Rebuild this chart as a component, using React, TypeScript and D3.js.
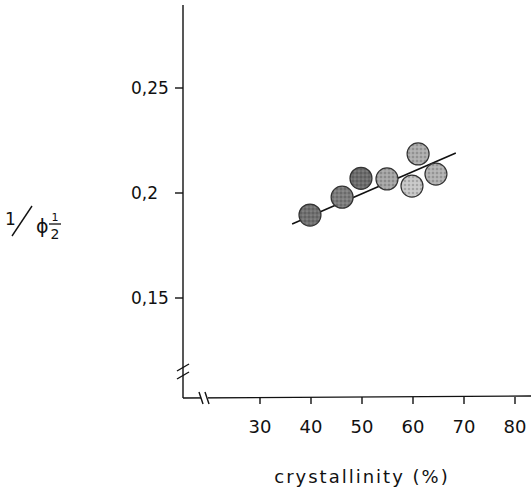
import React from 'react'
import { scaleLinear, line } from 'd3'

// crystallinity (%) vs 1/phi^(1/2)
const crystallinity = [39.8, 46.1, 49.8, 54.9, 59.8, 61.0, 64.5]
const invPhi = [0.1895, 0.198, 0.207, 0.2067, 0.2033, 0.2186, 0.209]
const shades = ['#707070', '#7c7c7c', '#6c6c6c', '#a4a4a4', '#c6c6c6', '#acacac', '#b0b0b0']

// fitted line end points
const fitX = [36.3, 68.4]
const fitY = [0.1852, 0.219]

const xTicks = [30, 40, 50, 60, 70, 80]
const yTicks = [0.15, 0.2, 0.25]
const yTickLabels = ['0,15', '0,2', '0,25']

const W = 531, H = 488
const axisX = 183, axisY = 398

const App = () => {
    const x = scaleLinear().domain([30, 80]).range([260, 515])
    const y = scaleLinear().domain([0.15, 0.25]).range([298, 88])

    const fit = line<number>().x((d) => x(d)).y((_, i) => y(fitY[i]))(fitX)
    const font = "'DejaVu Sans', sans-serif"

    return (
        <svg width={W} height={H} style={{ position: 'absolute', left: 0, top: 0 }} fontFamily={font}>
            <defs>
                <pattern id='stipple' width={4} height={4} patternUnits='userSpaceOnUse'>
                    <circle cx={1} cy={1} r={0.7} fill='#222' opacity={0.55} />
                    <circle cx={3} cy={3} r={0.6} fill='#fff' opacity={0.4} />
                </pattern>
            </defs>

            {/* y axis with break */}
            <line x1={axisX} y1={5} x2={axisX} y2={axisY} stroke='#111' strokeWidth={1.4} />
            <line x1={177} y1={371} x2={189} y2={364} stroke='#111' strokeWidth={1.4} />
            <line x1={177} y1={379} x2={189} y2={372} stroke='#111' strokeWidth={1.4} />
            {yTicks.map((t, i) => (
                <g key={t}>
                    <line x1={axisX - 8} x2={axisX} y1={y(t)} y2={y(t)} stroke='#111' strokeWidth={1.4} />
                    <text x={131} y={y(t)} dy='0.35em' fontSize={17} fill='#111'>{yTickLabels[i]}</text>
                </g>
            ))}

            {/* x axis with break */}
            <line x1={axisX} y1={axisY} x2={W} y2={axisY - 2} stroke='#111' strokeWidth={1.4} />
            <rect x={201} y={390} width={7} height={14} fill='#fff' />
            <line x1={199} y1={392} x2={203} y2={404} stroke='#111' strokeWidth={1.4} />
            <line x1={205} y1={392} x2={209} y2={404} stroke='#111' strokeWidth={1.4} />
            {xTicks.map((t) => (
                <g key={t}>
                    <line x1={x(t)} x2={x(t)} y1={axisY - 1} y2={axisY + 6} stroke='#111' strokeWidth={1.4} />
                    <text x={x(t)} y={427} dy='0.35em' textAnchor='middle' fontSize={18} fill='#111'>{t}</text>
                </g>
            ))}
            <text x={362} y={477} dy='0.35em' textAnchor='middle' fontSize={18} fill='#111' letterSpacing={2}>
                crystallinity  (%)
            </text>

            {/* y label: 1 / phi^(1/2) */}
            <g fill='#111'>
                <text x={5} y={225} fontSize={17}>1</text>
                <line x1={12} y1={236} x2={32} y2={206} stroke='#111' strokeWidth={1.4} />
                <text x={36} y={233} fontSize={19}>ϕ</text>
                <text x={55} y={221} fontSize={11} textAnchor='middle'>1</text>
                <line x1={49} y1={224} x2={61} y2={224} stroke='#111' strokeWidth={1.3} />
                <text x={55} y={239} fontSize={14} textAnchor='middle'>2</text>
            </g>

            {/* fit line and points */}
            <path d={fit ?? ''} fill='none' stroke='#111' strokeWidth={1.6} />
            {crystallinity.map((c, i) => (
                <g key={i}>
                    <circle cx={x(c)} cy={y(invPhi[i])} r={11} fill={shades[i]} stroke='#333' strokeWidth={1.2} />
                    <circle cx={x(c)} cy={y(invPhi[i])} r={10.4} fill='url(#stipple)' />
                </g>
            ))}
        </svg>
    )
}

export default App
